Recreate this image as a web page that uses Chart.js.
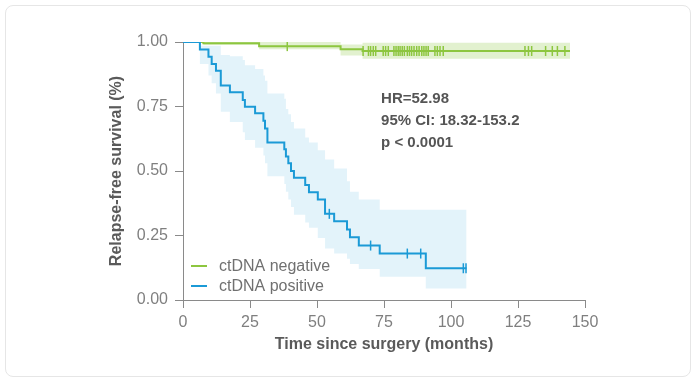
<!DOCTYPE html>
<html>
<head>
<meta charset="utf-8">
<script src="https://cdn.jsdelivr.net/npm/chart.js@4.4.0/dist/chart.umd.min.js"></script>
<style>
  html, body { margin: 0; padding: 0; background: #fff; }
  .card { position: absolute; left: 5px; top: 5px; width: 684px; height: 370px; border: 1px solid #e6e6e6; border-radius: 8px; }
  .wrap { position: absolute; left: 0; top: 0; width: 696px; height: 381px; }
</style>
</head>
<body>
<div class="card"></div>
<div class="wrap"><canvas id="km-Chart" width="696" height="381"></canvas></div>
<script>
// -------------------- DATA --------------------

// ctDNA negative: step times (months), survival and 95% band
const negTimes = [0, 7.6, 28.4, 58.8, 67.0, 144.4];
const negSurv = [1.0, 0.995, 0.984, 0.972, 0.965, 0.965];
const negLower = [1.0, 0.988, 0.972, 0.948, 0.935, 0.935];
const negUpper = [1.0, 1.0, 1.0, 0.99, 0.997, 0.997];
// censored patients (months)
const negCensor = [38.9, 67.2, 69.2, 70.0, 71.0, 71.9, 74.7, 75.6, 76.6, 78.7, 79.5, 80.3, 81.0, 81.8,
  82.6, 83.7, 84.5, 85.3, 86.2, 87.2, 88.1, 89.1, 89.9, 90.7, 91.5, 94.0, 94.9, 95.9, 97.1,
  127.6, 128.9, 130.1, 135.3, 137.8, 139.7, 142.5];

// ctDNA positive
const posTimes = [0, 6.3, 9.5, 10.7, 12.3, 14.1, 17.5, 22.3, 23.1, 26.9, 30.0, 30.6, 31.5, 37.8, 38.4,
  39.3, 40.3, 41.4, 45.6, 47.0, 50.3, 53.0, 56.4, 61.2, 62.3, 65.6, 73.4, 90.6, 105.8];
const posSurv = [1.0, 0.971, 0.943, 0.915, 0.889, 0.831, 0.805, 0.775, 0.749, 0.724, 0.695, 0.665, 0.61,
  0.584, 0.556, 0.53, 0.5, 0.474, 0.446, 0.418, 0.39, 0.334, 0.305, 0.273, 0.243, 0.211, 0.18, 0.123, 0.123];
const posLower = [1.0, 0.915, 0.87, 0.84, 0.8, 0.73, 0.69, 0.65, 0.62, 0.59, 0.56, 0.53, 0.48, 0.45, 0.42,
  0.39, 0.36, 0.33, 0.3, 0.28, 0.24, 0.2, 0.18, 0.16, 0.14, 0.12, 0.09, 0.045, 0.045];
const posUpper = [1.0, 0.985, 0.985, 0.985, 0.985, 0.95, 0.945, 0.93, 0.91, 0.895, 0.87, 0.85, 0.8, 0.78,
  0.74, 0.72, 0.69, 0.665, 0.63, 0.61, 0.58, 0.545, 0.51, 0.46, 0.42, 0.39, 0.35, 0.35, 0.35];
const posCensor = [54.6, 70.0, 83.7, 88.7, 104.6, 105.6];

// Axis ticks and texts
const xTicks = [0, 25, 50, 75, 100, 125, 150];
const yTicks = [0, 0.25, 0.5, 0.75, 1.0];
const legendLabels = ["ctDNA negative", "ctDNA positive"];
const statLines = ["HR=52.98", "95% CI: 18.32-153.2", "p < 0.0001"];

const GREEN = "#8dc63f";
const BLUE = "#1b9ad6";

// -------------------- HELPERS --------------------

// pair times with values
function toPoints(times, vals) {
  return times.map((t, i) => ({ x: t, y: vals[i] }));
}

// survival value at a censor time
function survAt(times, surv, t) {
  let s = surv[0];
  for (let i = 0; i < times.length; i++) if (times[i] <= t) s = surv[i];
  return s;
}

function censorPoints(times, surv, censor) {
  return censor.map((t) => ({ x: t, y: survAt(times, surv, t) }));
}

// -------------------- PLUGIN: legend + stats --------------------

const overlayPlugin = {
  id: "overlay",
  afterDraw(chart) {
    const { ctx, chartArea } = chart;
    const xs = chart.scales.x;
    const ys = chart.scales.y;
    ctx.save();
    ctx.textBaseline = "middle";

    // stats text
    ctx.fillStyle = "#555";
    ctx.font = "bold 15px 'Liberation Sans', Arial, sans-serif";
    const sx = xs.getPixelForValue(73.9);
    const sy = ys.getPixelForValue(0.779);
    statLines.forEach((line, i) => ctx.fillText(line, sx, sy + i * 22));

    // legend
    const colors = [GREEN, BLUE];
    ctx.font = "16px 'Liberation Sans', Arial, sans-serif";
    legendLabels.forEach((label, i) => {
      const y = chartArea.bottom - 34 + i * 20;
      ctx.strokeStyle = colors[i];
      ctx.lineWidth = 2;
      ctx.beginPath();
      ctx.moveTo(chartArea.left + 8, y);
      ctx.lineTo(chartArea.left + 24, y);
      ctx.stroke();
      ctx.fillStyle = "#707070";
      ctx.fillText(label, chartArea.left + 36, y + 1);
    });
    ctx.restore();
  },
};

// -------------------- CHART --------------------

const bandStyle = (color) => ({
  borderWidth: 0,
  pointRadius: 0,
  stepped: true,
  backgroundColor: color,
  borderColor: color,
});

const ctx = document.getElementById("km-Chart");

new Chart(ctx, {
  type: "line",
  data: {
    datasets: [
      { ...bandStyle("rgba(141,198,63,0.25)"), data: toPoints(negTimes, negUpper), fill: "+1", order: 5 },
      { ...bandStyle("rgba(141,198,63,0.25)"), data: toPoints(negTimes, negLower), fill: false, order: 6 },
      { ...bandStyle("rgba(27,154,214,0.12)"), data: toPoints(posTimes, posUpper), fill: "+1", order: 3 },
      { ...bandStyle("rgba(27,154,214,0.12)"), data: toPoints(posTimes, posLower), fill: false, order: 4 },
      {
        data: toPoints(negTimes, negSurv),
        borderColor: GREEN,
        borderWidth: 2,
        pointRadius: 0,
        stepped: true,
        fill: false,
        order: 2,
      },
      {
        data: toPoints(posTimes, posSurv),
        borderColor: BLUE,
        borderWidth: 2,
        pointRadius: 0,
        stepped: true,
        fill: false,
        order: 1,
      },
      {
        data: censorPoints(negTimes, negSurv, negCensor),
        showLine: false,
        pointStyle: "line",
        rotation: 90,
        pointRadius: 5,
        pointBorderWidth: 1.5,
        borderColor: GREEN,
        order: 0,
      },
      {
        data: censorPoints(posTimes, posSurv, posCensor),
        showLine: false,
        pointStyle: "line",
        rotation: 90,
        pointRadius: 5,
        pointBorderWidth: 1.5,
        borderColor: BLUE,
        order: 0,
      },
    ],
  },
  options: {
    responsive: false,
    animation: false,
    devicePixelRatio: 1,
    layout: { padding: { left: 100, right: 111, top: 42, bottom: 20 } },
    plugins: { legend: { display: false }, tooltip: { enabled: false } },
    elements: { point: { hoverRadius: 0 } },
    scales: {
      x: {
        type: "linear",
        min: 0,
        max: 150,
        afterFit: (s) => { s.height = 61; },
        afterBuildTicks: (s) => { s.ticks = xTicks.map((v) => ({ value: v })); },
        ticks: { color: "#7f7f7f", padding: 5, font: { size: 16, family: "'Liberation Sans', Arial" } },
        grid: { drawOnChartArea: false, drawTicks: true, tickLength: 8, color: "#8a8a8a" },
        border: { color: "#8a8a8a" },
        title: {
          display: true,
          text: "Time since surgery (months)",
          color: "#5a5a5a",
          padding: { top: 0, bottom: 7 },
          font: { size: 16, weight: "bold", family: "'Liberation Sans', Arial" },
        },
      },
      y: {
        type: "linear",
        min: 0,
        max: 1,
        afterFit: (s) => { s.width = 83; },
        afterBuildTicks: (s) => { s.ticks = yTicks.map((v) => ({ value: v })); },
        ticks: {
          color: "#7f7f7f",
          padding: 7,
          font: { size: 16, family: "'Liberation Sans', Arial" },
          callback: (v) => Number(v).toFixed(2),
        },
        grid: { drawOnChartArea: false, drawTicks: true, tickLength: 8, color: "#8a8a8a" },
        border: { color: "#8a8a8a" },
        title: {
          display: true,
          text: "Relapse-free survival (%)",
          color: "#5a5a5a",
          padding: { top: 7, bottom: 0 },
          font: { size: 16, weight: "bold", family: "'Liberation Sans', Arial" },
        },
      },
    },
  },
  plugins: [overlayPlugin],
});
</script>
</body>
</html>
